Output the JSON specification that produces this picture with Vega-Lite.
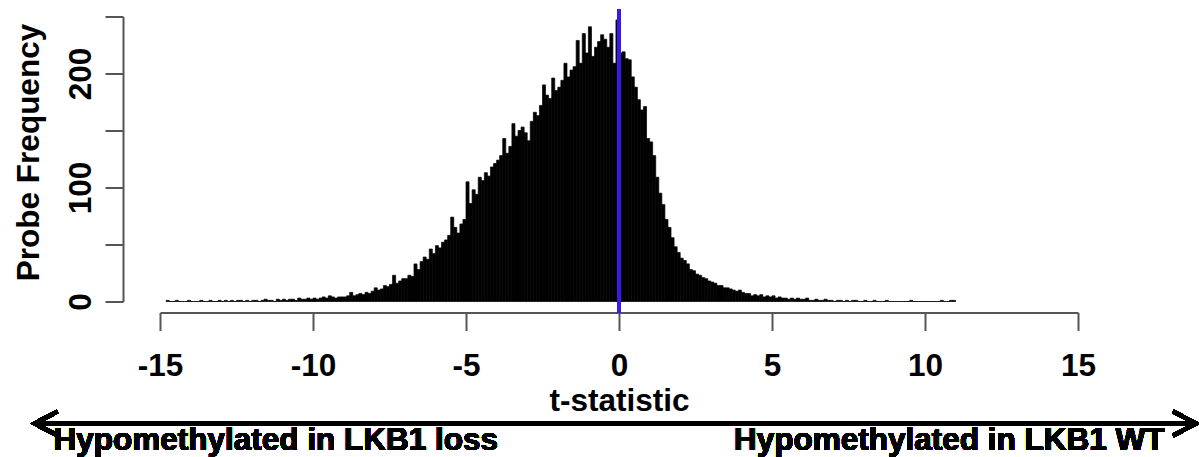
{
  "$schema": "https://vega.github.io/schema/vega-lite/v6.json",
  "width": 918,
  "height": 285,
  "autosize": "none",
  "padding": {"left": 160, "top": 16.5, "right": 121, "bottom": 155.5},
  "background": "white",
  "config": {
    "view": {"stroke": null},
    "axis": {"grid": false},
    "font": "Liberation Sans"
  },
  "data": {"values": [
    {"t0":-14.8,"t1":-14.7,"count":1},{"t0":-14.7,"t1":-14.6,"count":0},{"t0":-14.6,"t1":-14.5,"count":0},{"t0":-14.5,"t1":-14.4,"count":1},{"t0":-14.4,"t1":-14.3,"count":0},
    {"t0":-14.3,"t1":-14.2,"count":0},{"t0":-14.2,"t1":-14.1,"count":0},{"t0":-14.1,"t1":-14.0,"count":1},{"t0":-14.0,"t1":-13.9,"count":0},{"t0":-13.9,"t1":-13.8,"count":0},
    {"t0":-13.8,"t1":-13.7,"count":0},{"t0":-13.7,"t1":-13.6,"count":1},{"t0":-13.6,"t1":-13.5,"count":0},{"t0":-13.5,"t1":-13.4,"count":0},{"t0":-13.4,"t1":-13.3,"count":1},
    {"t0":-13.3,"t1":-13.2,"count":0},{"t0":-13.2,"t1":-13.1,"count":0},{"t0":-13.1,"t1":-13.0,"count":1},{"t0":-13.0,"t1":-12.9,"count":0},{"t0":-12.9,"t1":-12.8,"count":1},
    {"t0":-12.8,"t1":-12.7,"count":0},{"t0":-12.7,"t1":-12.6,"count":1},{"t0":-12.6,"t1":-12.5,"count":0},{"t0":-12.5,"t1":-12.4,"count":1},{"t0":-12.4,"t1":-12.3,"count":1},
    {"t0":-12.3,"t1":-12.2,"count":0},{"t0":-12.2,"t1":-12.1,"count":1},{"t0":-12.1,"t1":-12.0,"count":0},
    {"t0":-12.0,"t1":-11.9,"count":1},{"t0":-11.9,"t1":-11.8,"count":1},{"t0":-11.8,"t1":-11.7,"count":0},{"t0":-11.7,"t1":-11.6,"count":1},{"t0":-11.6,"t1":-11.5,"count":2},
    {"t0":-11.5,"t1":-11.4,"count":1},{"t0":-11.4,"t1":-11.3,"count":1},{"t0":-11.3,"t1":-11.2,"count":0},{"t0":-11.2,"t1":-11.1,"count":2},{"t0":-11.1,"t1":-11.0,"count":1},
    {"t0":-11.0,"t1":-10.9,"count":2},{"t0":-10.9,"t1":-10.8,"count":1},{"t0":-10.8,"t1":-10.7,"count":2},{"t0":-10.7,"t1":-10.6,"count":2},{"t0":-10.6,"t1":-10.5,"count":1},
    {"t0":-10.5,"t1":-10.4,"count":3},{"t0":-10.4,"t1":-10.3,"count":2},{"t0":-10.3,"t1":-10.2,"count":2},{"t0":-10.2,"t1":-10.1,"count":3},{"t0":-10.1,"t1":-10.0,"count":2},
    {"t0":-10.0,"t1":-9.9,"count":3},{"t0":-9.9,"t1":-9.8,"count":2},{"t0":-9.8,"t1":-9.7,"count":3},{"t0":-9.7,"t1":-9.6,"count":4},{"t0":-9.6,"t1":-9.5,"count":3},
    {"t0":-9.5,"t1":-9.4,"count":5},{"t0":-9.4,"t1":-9.3,"count":4},{"t0":-9.3,"t1":-9.2,"count":3},{"t0":-9.2,"t1":-9.1,"count":4},{"t0":-9.1,"t1":-9.0,"count":4},
    {"t0":-9.0,"t1":-8.9,"count":4},{"t0":-8.9,"t1":-8.8,"count":5},{"t0":-8.8,"t1":-8.7,"count":8},{"t0":-8.7,"t1":-8.6,"count":5},{"t0":-8.6,"t1":-8.5,"count":6},
    {"t0":-8.5,"t1":-8.4,"count":7},{"t0":-8.4,"t1":-8.3,"count":6},{"t0":-8.3,"t1":-8.2,"count":8},{"t0":-8.2,"t1":-8.1,"count":7},{"t0":-8.1,"t1":-8.0,"count":9},
    {"t0":-8.0,"t1":-7.9,"count":12},{"t0":-7.9,"t1":-7.8,"count":10},{"t0":-7.8,"t1":-7.7,"count":11},{"t0":-7.7,"t1":-7.6,"count":14},{"t0":-7.6,"t1":-7.5,"count":13},
    {"t0":-7.5,"t1":-7.4,"count":15},{"t0":-7.4,"t1":-7.3,"count":23},{"t0":-7.3,"t1":-7.2,"count":16},{"t0":-7.2,"t1":-7.1,"count":18},{"t0":-7.1,"t1":-7.0,"count":20},
    {"t0":-7.0,"t1":-6.9,"count":20},{"t0":-6.9,"t1":-6.8,"count":23},{"t0":-6.8,"t1":-6.7,"count":22},{"t0":-6.7,"t1":-6.6,"count":33},{"t0":-6.6,"t1":-6.5,"count":28},
    {"t0":-6.5,"t1":-6.4,"count":35},{"t0":-6.4,"t1":-6.3,"count":39},{"t0":-6.3,"t1":-6.2,"count":37},{"t0":-6.2,"t1":-6.1,"count":46},{"t0":-6.1,"t1":-6.0,"count":42},
    {"t0":-6.0,"t1":-5.9,"count":49},{"t0":-5.9,"t1":-5.8,"count":47},{"t0":-5.8,"t1":-5.7,"count":52},{"t0":-5.7,"t1":-5.6,"count":54},{"t0":-5.6,"t1":-5.5,"count":58},
    {"t0":-5.5,"t1":-5.4,"count":74},{"t0":-5.4,"t1":-5.3,"count":65},{"t0":-5.3,"t1":-5.2,"count":60},{"t0":-5.2,"t1":-5.1,"count":68},{"t0":-5.1,"t1":-5.0,"count":72},
    {"t0":-5.0,"t1":-4.9,"count":105},{"t0":-4.9,"t1":-4.8,"count":86},{"t0":-4.8,"t1":-4.7,"count":98},{"t0":-4.7,"t1":-4.6,"count":94},{"t0":-4.6,"t1":-4.5,"count":109},
    {"t0":-4.5,"t1":-4.4,"count":106},{"t0":-4.4,"t1":-4.3,"count":113},{"t0":-4.3,"t1":-4.2,"count":110},{"t0":-4.2,"t1":-4.1,"count":118},{"t0":-4.1,"t1":-4.0,"count":121},
    {"t0":-4.0,"t1":-3.9,"count":124},{"t0":-3.9,"t1":-3.8,"count":128},{"t0":-3.8,"t1":-3.7,"count":143},{"t0":-3.7,"t1":-3.6,"count":130},{"t0":-3.6,"t1":-3.5,"count":136},
    {"t0":-3.5,"t1":-3.4,"count":156},{"t0":-3.4,"t1":-3.3,"count":145},{"t0":-3.3,"t1":-3.2,"count":150},{"t0":-3.2,"t1":-3.1,"count":153},{"t0":-3.1,"t1":-3.0,"count":148},
    {"t0":-3.0,"t1":-2.9,"count":141},{"t0":-2.9,"t1":-2.8,"count":158},{"t0":-2.8,"t1":-2.7,"count":166},{"t0":-2.7,"t1":-2.6,"count":163},{"t0":-2.6,"t1":-2.5,"count":172},
    {"t0":-2.5,"t1":-2.4,"count":190},{"t0":-2.4,"t1":-2.3,"count":181},{"t0":-2.3,"t1":-2.2,"count":178},{"t0":-2.2,"t1":-2.1,"count":196},{"t0":-2.1,"t1":-2.0,"count":185},
    {"t0":-2.0,"t1":-1.9,"count":188},{"t0":-1.9,"t1":-1.8,"count":194},{"t0":-1.8,"t1":-1.7,"count":209},{"t0":-1.7,"t1":-1.6,"count":197},{"t0":-1.6,"t1":-1.5,"count":203},
    {"t0":-1.5,"t1":-1.4,"count":206},{"t0":-1.4,"t1":-1.3,"count":229},{"t0":-1.3,"t1":-1.2,"count":209},{"t0":-1.2,"t1":-1.1,"count":235},{"t0":-1.1,"t1":-1.0,"count":218},
    {"t0":-1.0,"t1":-0.9,"count":241},{"t0":-0.9,"t1":-0.8,"count":215},{"t0":-0.8,"t1":-0.7,"count":223},{"t0":-0.7,"t1":-0.6,"count":228},{"t0":-0.6,"t1":-0.5,"count":234},
    {"t0":-0.5,"t1":-0.4,"count":230},{"t0":-0.4,"t1":-0.3,"count":223},{"t0":-0.3,"t1":-0.2,"count":235},{"t0":-0.2,"t1":-0.1,"count":209},{"t0":-0.1,"t1":0.0,"count":247},
    {"t0":0.0,"t1":0.1,"count":218},{"t0":0.1,"t1":0.2,"count":219},{"t0":0.2,"t1":0.3,"count":213},{"t0":0.3,"t1":0.4,"count":212},{"t0":0.4,"t1":0.5,"count":197},
    {"t0":0.5,"t1":0.6,"count":188},{"t0":0.6,"t1":0.7,"count":177},{"t0":0.7,"t1":0.8,"count":168},{"t0":0.8,"t1":0.9,"count":171},{"t0":0.9,"t1":1.0,"count":143},
    {"t0":1.0,"t1":1.1,"count":140},{"t0":1.1,"t1":1.2,"count":128},{"t0":1.2,"t1":1.3,"count":109},{"t0":1.3,"t1":1.4,"count":95},{"t0":1.4,"t1":1.5,"count":85},
    {"t0":1.5,"t1":1.6,"count":72},{"t0":1.6,"t1":1.7,"count":65},{"t0":1.7,"t1":1.8,"count":56},{"t0":1.8,"t1":1.9,"count":48},{"t0":1.9,"t1":2.0,"count":43},
    {"t0":2.0,"t1":2.1,"count":38},{"t0":2.1,"t1":2.2,"count":36},{"t0":2.2,"t1":2.3,"count":33},{"t0":2.3,"t1":2.4,"count":28},{"t0":2.4,"t1":2.5,"count":27},
    {"t0":2.5,"t1":2.6,"count":24},{"t0":2.6,"t1":2.7,"count":23},{"t0":2.7,"t1":2.8,"count":21},{"t0":2.8,"t1":2.9,"count":20},{"t0":2.9,"t1":3.0,"count":18},
    {"t0":3.0,"t1":3.1,"count":17},{"t0":3.1,"t1":3.2,"count":16},{"t0":3.2,"t1":3.3,"count":14},{"t0":3.3,"t1":3.4,"count":14},{"t0":3.4,"t1":3.5,"count":12},
    {"t0":3.5,"t1":3.6,"count":12},{"t0":3.6,"t1":3.7,"count":11},{"t0":3.7,"t1":3.8,"count":10},{"t0":3.8,"t1":3.9,"count":9},{"t0":3.9,"t1":4.0,"count":10},
    {"t0":4.0,"t1":4.1,"count":8},{"t0":4.1,"t1":4.2,"count":7},{"t0":4.2,"t1":4.3,"count":7},{"t0":4.3,"t1":4.4,"count":5},{"t0":4.4,"t1":4.5,"count":6},
    {"t0":4.5,"t1":4.6,"count":5},{"t0":4.6,"t1":4.7,"count":6},{"t0":4.7,"t1":4.8,"count":4},{"t0":4.8,"t1":4.9,"count":5},{"t0":4.9,"t1":5.0,"count":4},
    {"t0":5.0,"t1":5.1,"count":5},{"t0":5.1,"t1":5.2,"count":3},{"t0":5.2,"t1":5.3,"count":4},{"t0":5.3,"t1":5.4,"count":3},{"t0":5.4,"t1":5.5,"count":3},
    {"t0":5.5,"t1":5.6,"count":2},{"t0":5.6,"t1":5.7,"count":3},{"t0":5.7,"t1":5.8,"count":2},{"t0":5.8,"t1":5.9,"count":3},{"t0":5.9,"t1":6.0,"count":2},
    {"t0":6.0,"t1":6.1,"count":2},{"t0":6.1,"t1":6.2,"count":3},{"t0":6.2,"t1":6.3,"count":1},{"t0":6.3,"t1":6.4,"count":1},{"t0":6.4,"t1":6.5,"count":2},
    {"t0":6.5,"t1":6.6,"count":1},{"t0":6.6,"t1":6.7,"count":1},{"t0":6.7,"t1":6.8,"count":2},{"t0":6.8,"t1":6.9,"count":1},{"t0":6.9,"t1":7.0,"count":1},
    {"t0":7.0,"t1":7.1,"count":0},{"t0":7.1,"t1":7.2,"count":1},{"t0":7.2,"t1":7.3,"count":1},{"t0":7.3,"t1":7.4,"count":0},{"t0":7.4,"t1":7.5,"count":1},
    {"t0":7.5,"t1":7.6,"count":0},{"t0":7.6,"t1":7.7,"count":1},{"t0":7.7,"t1":7.8,"count":1},{"t0":7.8,"t1":7.9,"count":0},{"t0":7.9,"t1":8.0,"count":0},
    {"t0":8.0,"t1":8.1,"count":1},{"t0":8.1,"t1":8.2,"count":0},{"t0":8.2,"t1":8.3,"count":0},{"t0":8.3,"t1":8.4,"count":1},{"t0":8.4,"t1":8.5,"count":0},
    {"t0":8.5,"t1":8.6,"count":0},{"t0":8.6,"t1":8.7,"count":0},{"t0":8.7,"t1":8.8,"count":1},{"t0":8.8,"t1":8.9,"count":0},{"t0":8.9,"t1":9.0,"count":0},
    {"t0":9.0,"t1":9.1,"count":0},{"t0":9.1,"t1":9.2,"count":0},{"t0":9.2,"t1":9.3,"count":0},{"t0":9.3,"t1":9.4,"count":0},{"t0":9.4,"t1":9.5,"count":0},
    {"t0":9.5,"t1":9.6,"count":1},{"t0":9.6,"t1":9.7,"count":0},{"t0":9.7,"t1":9.8,"count":0},{"t0":9.8,"t1":9.9,"count":0},{"t0":9.9,"t1":10.0,"count":0},
    {"t0":10.0,"t1":10.1,"count":0},{"t0":10.1,"t1":10.2,"count":0},{"t0":10.2,"t1":10.3,"count":0},{"t0":10.3,"t1":10.4,"count":0},{"t0":10.4,"t1":10.5,"count":0},
    {"t0":10.5,"t1":10.6,"count":1},{"t0":10.6,"t1":10.7,"count":0},{"t0":10.7,"t1":10.8,"count":0},{"t0":10.8,"t1":10.9,"count":1},{"t0":10.9,"t1":11.0,"count":1}
  ]},
  "layer": [
    {
      "mark": {"type": "bar", "color": "black", "stroke": "black", "strokeWidth": 0.7},
      "encoding": {
        "x": {
          "field": "t0", "type": "quantitative",
          "scale": {"domain": [-15, 15], "nice": false, "zero": false},
          "axis": {
            "title": "t-statistic",
            "values": [-15, -10, -5, 0, 5, 10, 15],
            "offset": 11,
            "domainColor": "#555", "domainWidth": 2,
            "tickColor": "#555", "tickWidth": 2, "tickSize": 18,
            "labelFont": "Liberation Sans", "labelFontWeight": "bold", "labelFontSize": 31.5, "labelColor": "black",
            "labelExpr": "'' + datum.value",
            "labelBaseline": "alphabetic", "labelPadding": 44.5, "labelFlush": false, "labelOverlap": false,
            "titleFont": "Liberation Sans", "titleFontWeight": "bold", "titleFontSize": 31.5, "titleColor": "black",
            "titleBaseline": "alphabetic", "titleY": 97.5
          }
        },
        "x2": {"field": "t1"},
        "y": {
          "field": "count", "type": "quantitative",
          "scale": {"domain": [0, 250], "nice": false, "padding": 0},
          "axis": {
            "title": "Probe Frequency",
            "values": [0, 50, 100, 150, 200, 250],
            "offset": 37,
            "domainColor": "#555", "domainWidth": 2,
            "tickColor": "#555", "tickWidth": 2, "tickSize": 18,
            "labelFont": "Liberation Sans", "labelFontWeight": "bold", "labelFontSize": 31.5, "labelColor": "black",
            "labelAngle": -90, "labelAlign": "center", "labelBaseline": "alphabetic", "labelPadding": 15,
            "labelExpr": "datum.value % 100 === 0 ? datum.label : ''",
            "labelFlush": false, "labelOverlap": false,
            "titleFont": "Liberation Sans", "titleFontWeight": "bold", "titleFontSize": 31.5, "titleColor": "black",
            "titleAngle": -90, "titleAlign": "center", "titleBaseline": "alphabetic", "titleX": -85, "titleY": 135.5
          }
        },
        "y2": {"datum": 0}
      }
    },
    {
      "mark": {"type": "rule", "color": "#3a18f0", "strokeWidth": 4},
      "encoding": {
        "x": {"datum": 0, "type": "quantitative"},
        "y": {"datum": 256.6, "type": "quantitative"},
        "y2": {"datum": -9.6}
      }
    },
    {
      "mark": {"type": "rule", "color": "black", "strokeWidth": 4},
      "encoding": {
        "x": {"datum": -19.05, "type": "quantitative"},
        "x2": {"datum": 18.82},
        "y": {"datum": -107, "type": "quantitative"}
      }
    },
    {
      "mark": {"type": "point", "shape": "M1,-0.52L0,0L1,0.52", "size": 2116, "filled": false, "stroke": "black", "strokeWidth": 4, "opacity": 1, "strokeJoin": "miter"},
      "encoding": {
        "x": {"datum": -19.1, "type": "quantitative"},
        "y": {"datum": -107, "type": "quantitative"}
      }
    },
    {
      "mark": {"type": "point", "shape": "M-1,-0.52L0,0L-1,0.52", "size": 2116, "filled": false, "stroke": "black", "strokeWidth": 4, "opacity": 1, "strokeJoin": "miter"},
      "encoding": {
        "x": {"datum": 18.86, "type": "quantitative"},
        "y": {"datum": -107, "type": "quantitative"}
      }
    },
    {
      "mark": {"type": "text", "text": "Hypomethylated in LKB1 loss", "align": "left", "baseline": "alphabetic", "font": "Liberation Sans", "fontWeight": "bold", "fontSize": 31.5, "color": "black"},
      "encoding": {
        "x": {"datum": -18.48, "type": "quantitative"},
        "y": {"datum": -130.3, "type": "quantitative"}
      }
    },
    {
      "mark": {"type": "text", "text": "Hypomethylated in LKB1 WT", "align": "right", "baseline": "alphabetic", "font": "Liberation Sans", "fontWeight": "bold", "fontSize": 31.5, "color": "black"},
      "encoding": {
        "x": {"datum": 17.83, "type": "quantitative"},
        "y": {"datum": -130.3, "type": "quantitative"}
      }
    }
  ]
}
